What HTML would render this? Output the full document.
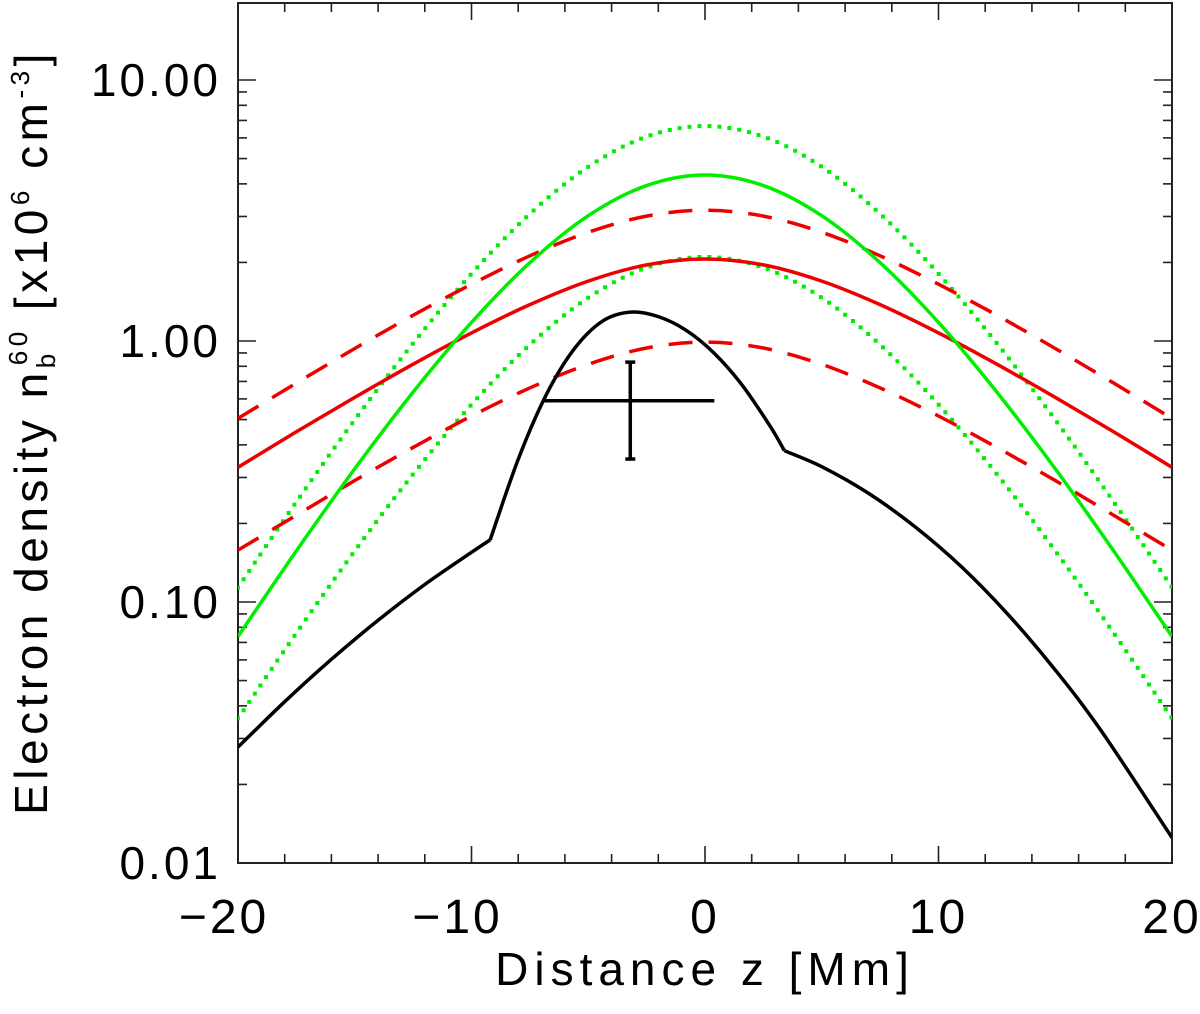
<!DOCTYPE html>
<html><head><meta charset="utf-8"><style>
html,body{margin:0;padding:0;background:#fff;}
svg text{font-family:"Liberation Sans",sans-serif;fill:#000;}
</style></head><body>
<svg id="chart" width="1200" height="1009" viewBox="0 0 1200 1009" xmlns="http://www.w3.org/2000/svg">
<g id="axes"></g>
<g id="series"></g>
<text x="705" y="985" font-size="46" text-anchor="middle" letter-spacing="6">Distance z [Mm]</text>
<text transform="translate(47,432) rotate(-90)" font-size="46" text-anchor="middle" letter-spacing="4.5">Electron density n<tspan font-size="26" dy="8">b</tspan><tspan font-size="26" dy="-28" dx="-16">60</tspan><tspan dy="20"> [x10</tspan><tspan font-size="26" dy="-18">6</tspan><tspan dy="18"> cm</tspan><tspan font-size="26" dy="-18">-3</tspan><tspan dy="18">]</tspan></text>
</svg>
<script>
// data
const zGrid = [-20,-17.5,-15,-12.5,-10,-7.5,-5,-2.5,0,2.5,5,7.5,10,12.5,15,17.5,20];
const redSolid = [0.328,0.449,0.608,0.815,1.074,1.378,1.696,1.957,2.061,1.957,1.696,1.378,1.074,0.815,0.608,0.449,0.328];
const redDashHigh = [0.505,0.69,0.936,1.255,1.65,2.12,2.61,3.01,3.17,3.01,2.61,2.12,1.65,1.255,0.936,0.69,0.505];
const redDashLow = [0.158,0.215,0.292,0.391,0.516,0.661,0.814,0.94,0.99,0.94,0.814,0.661,0.516,0.391,0.292,0.215,0.158];
const greenSolid = [0.0738,0.157,0.324,0.637,1.178,1.995,3.02,3.94,4.325,3.94,3.02,1.995,1.178,0.637,0.324,0.157,0.0738];
const greenDotHigh = [0.1137,0.242,0.499,0.98,1.81,3.07,4.65,6.07,6.66,6.07,4.65,3.07,1.81,0.98,0.499,0.242,0.1137];
const greenDotLow = [0.0358,0.0761,0.157,0.309,0.571,0.968,1.465,1.91,2.10,1.91,1.465,0.968,0.571,0.309,0.157,0.0761,0.0358];
const blackZ1 = [-20,-18,-16,-14,-12,-10,-9.2];
const blackV1 = [0.0278,0.0415,0.0603,0.0851,0.1167,0.155,0.173];
const blackZ2 = [-9.2,-8,-6.8,-5.6,-4.4,-3.2,-2,-0.8,0.4,1.6,2.8,3.4];
const blackV2 = [0.173,0.352,0.622,0.933,1.19,1.29,1.24,1.098,0.897,0.676,0.47,0.38];
const blackZ3 = [3.4,5,7,9,11,13,15,17,20];
const blackV3 = [0.380,0.330,0.261,0.194,0.136,0.0891,0.0549,0.0318,0.0125];
const errZ = -3.2, errZlo = -6.9, errZhi = 0.4;
const errV = 0.59, errVlo = 0.353, errVhi = 0.83;
const xTicks = [-20,-10,0,10,20];
const xTickLabels = ["\u221220","\u221210","0","10","20"];
const yTicks = [0.01,0.1,1,10];
const yTickLabels = ["0.01","0.10","1.00","10.00"];

const L=238,R=1172,T=3,B=863;
const X=z=>L+(z+20)/40*(R-L);
const Y=v=>B-(Math.log10(v)+2)*261;
const NS="http://www.w3.org/2000/svg";
function mk(tag,attrs,parent){const e=document.createElementNS(NS,tag);for(const k in attrs)e.setAttribute(k,attrs[k]);parent.appendChild(e);return e;}
const axes=document.getElementById('axes'), ser=document.getElementById('series');

function pathFrom(zs,vs){
  const p=zs.map((z,i)=>[X(z),Y(vs[i])]);
  let d=`M${p[0][0]},${p[0][1]}`;
  for(let i=0;i<p.length-1;i++){
    const p0=p[Math.max(0,i-1)],p1=p[i],p2=p[i+1],p3=p[Math.min(p.length-1,i+2)];
    const c1=[p1[0]+(p2[0]-p0[0])/6,p1[1]+(p2[1]-p0[1])/6];
    const c2=[p2[0]-(p3[0]-p1[0])/6,p2[1]-(p3[1]-p1[1])/6];
    d+=` C${c1[0]},${c1[1]} ${c2[0]},${c2[1]} ${p2[0]},${p2[1]}`;
  }
  return d;
}
const clip=mk('clipPath',{id:'pc'},ser);mk('rect',{x:L,y:T,width:R-L,height:B-T},clip);
function curve(zs,vs,color,dash,name){
  const e=mk('path',{d:pathFrom(zs,vs),fill:'none',stroke:color,'stroke-width':3.5,'clip-path':'url(#pc)'},ser);
  if(dash) e.setAttribute('stroke-dasharray',dash);
  if(dash&&dash.startsWith('0')){e.setAttribute('stroke-linecap','square');e.setAttribute('stroke-width','4');}
  
  
}
curve(zGrid,greenDotHigh,'#00ee00','0 10','green-dotted-upper');
curve(zGrid,greenDotLow,'#00ee00','0 10','green-dotted-lower');
curve(zGrid,redDashHigh,'#ee0000','24 16','red-dashed-upper');
curve(zGrid,redDashLow,'#ee0000','24 16','red-dashed-lower');
curve(zGrid,redSolid,'#ee0000',null,'red-solid-line');
curve(zGrid,greenSolid,'#00ee00',null,'green-solid-line');
curve(blackZ1,blackV1,'#000',null,'black-line-left');
curve(blackZ2,blackV2,'#000',null,'black-line-middle');
curve(blackZ3,blackV3,'#000',null,'black-line-right');

const eb=mk('g',{stroke:'#000','stroke-width':3.5,fill:'none'},ser);


mk('line',{x1:X(errZlo),x2:X(errZhi),y1:Y(errV),y2:Y(errV)},eb);
mk('line',{x1:X(errZ),x2:X(errZ),y1:Y(errVhi),y2:Y(errVlo)},eb);
mk('line',{x1:X(errZ)-5,x2:X(errZ)+5,y1:Y(errVhi),y2:Y(errVhi)},eb);
mk('line',{x1:X(errZ)-5,x2:X(errZ)+5,y1:Y(errVlo),y2:Y(errVlo)},eb);

const fr=mk('rect',{x:L,y:T,width:R-L,height:B-T,fill:'none',stroke:'#222','stroke-width':2},axes);


for(let z=-20;z<=20;z+=2){
  const maj=z%10===0, len=maj?17:9, x=X(z);
  mk('line',{x1:x,x2:x,y1:B,y2:B-len,stroke:'#222','stroke-width':1.6},axes);
  mk('line',{x1:x,x2:x,y1:T,y2:T+len,stroke:'#222','stroke-width':1.6},axes);
}
xTicks.forEach((z,i)=>{
  const t=mk('text',{x:X(z)-(z<0?14:0),y:933,'font-size':48,'text-anchor':'middle','letter-spacing':3},axes);
  t.textContent=xTickLabels[i];
  
  
});
for(let d=-2;d<=1;d++){
  for(let m=1;m<=9;m++){
    const v=m*Math.pow(10,d), y=Y(v);
    if(y<T) continue;
    const len=m===1?18:9;
    mk('line',{x1:L,x2:L+len,y1:y,y2:y,stroke:'#222','stroke-width':1.6},axes);
    mk('line',{x1:R,x2:R-len,y1:y,y2:y,stroke:'#222','stroke-width':1.6},axes);
  }
}
yTicks.forEach((v,i)=>{
  const t=mk('text',{x:221,y:Y(v)+16,'font-size':46,'text-anchor':'end','letter-spacing':3},axes);
  t.textContent=yTickLabels[i];
  
  
});
</script>
</body></html>
